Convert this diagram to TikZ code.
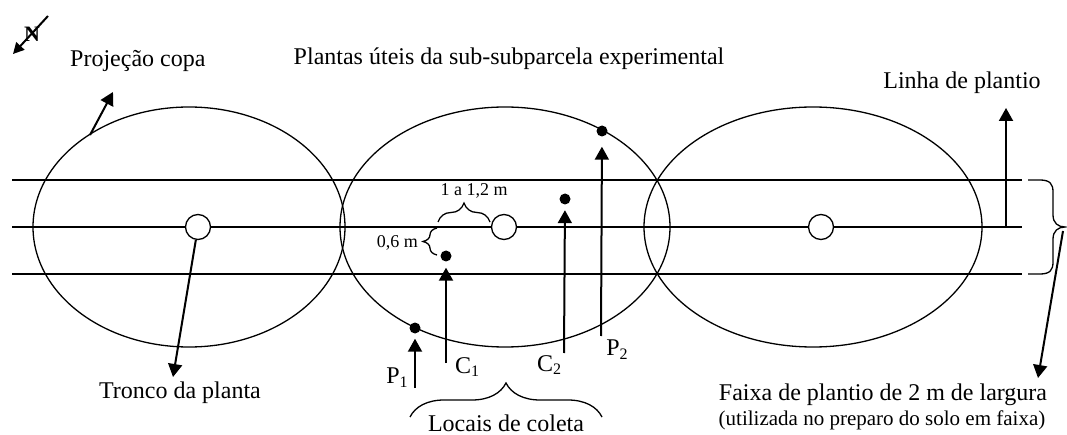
\documentclass[tikz,border=0pt]{standalone}
\usepackage{fontspec}
\setmainfont{Liberation Serif}
\usetikzlibrary{arrows.meta,decorations.pathreplacing}
\newcommand\lowsub[1]{\raisebox{-0.35ex}{\fontsize{16}{16}\selectfont #1}}
\tikzset{
  ln/.style={line width=1.3pt},
  arr/.style={line width=2pt, -{Triangle[length=13pt,width=14pt]}},
  dotn/.style={circle, fill=black, inner sep=0pt, minimum size=11pt},
  trunk/.style={circle, draw, fill=white, line width=1.3pt, inner sep=0pt, minimum size=25pt},
  lbl/.style={inner sep=0pt, font=\fontsize{24}{28}\selectfont},
  smalllbl/.style={inner sep=0pt, font=\fontsize{18}{20}\selectfont},
  brc/.style={line width=1.3pt, decorate, decoration={brace, amplitude=#1}},
}
\begin{document}
\begin{tikzpicture}[x=1pt,y=-1pt]
\useasboundingbox (0,0) rectangle (1067,435);
\fill[white] (0,0) rectangle (1067,435);

% canopy projections
\draw[ln] (189,227) ellipse [x radius=156pt, y radius=120pt];
\draw[ln] (505,227) ellipse [x radius=165pt, y radius=120pt];
\draw[ln] (813,227) ellipse [x radius=169pt, y radius=120pt];

% planting strip lines
\draw[ln] (12,180) -- (1022,180);
\draw[ln] (12,227) -- (1022,227);
\draw[ln] (12,274) -- (1022,274);

% trunks
\node[trunk] (t1) at (198,227) {};
\node[trunk] (t2) at (504,227) {};
\node[trunk] (t3) at (821,227) {};

% sampling points
\node[dotn] (p1) at (415,328) {};
\node[dotn] (c1) at (446,256) {};
\node[dotn] (c2) at (565,199) {};
\node[dotn] (p2) at (602,131) {};

\coordinate (p1b) at (415,388);
\coordinate (c1b) at (446,363);
\coordinate (c2b) at (564,353);
\coordinate (p2b) at (601,336);
\draw[arr, shorten >=5pt] (p1b) -- (p1);
\draw[arr, shorten >=6pt] (c1b) -- (c1);
\draw[arr, shorten >=5.5pt] (c2b) -- (c2);
\draw[arr, shorten >=10pt] (p2b) -- (p2);

\node[lbl] (lp1) at (397,378) {P\lowsub{1}};
\node[lbl] (lc1) at (467,367) {C\lowsub{1}};
\node[lbl] (lc2) at (549,365) {C\lowsub{2}};
\node[lbl] (lp2) at (617,350) {P\lowsub{2}};

% distance braces
\draw[brc=19] (438,222) -- (490,222);
\node[smalllbl] (d1) at (474,191) {1 a 1,2 m};
\draw[brc=14] (437,255) -- (437,228);
\node[smalllbl, anchor=east] (d2) at (418,243) {0,6 m};

% Locais de coleta
\draw[brc=34] (410,417) -- (602,417);
\node[lbl] (locais) at (506,423) {Locais de coleta};

% titles and labels
\node[lbl] (title) at (509,59) {Plantas úteis da sub-subparcela experimental};
\node[lbl, anchor=west] (proj) at (70,61) {Projeção copa};
\coordinate (projs) at (90,135);
\coordinate (projt) at (113,92);
\draw[arr] (projs) -- (projt);

\node[lbl] (tronco) at (180,393) {Tronco da planta};
\coordinate (trt) at (173,377);
\draw[arr] (t1) -- (trt);

\node[lbl] (linha) at (962,83) {Linha de plantio};
\coordinate (linb) at (1006,227);
\coordinate (lint) at (1006,108);
\draw[arr] (linb) -- (lint);

% strip brace
\coordinate (brtip) at (1065,227);
\draw[ln] (1028,180) -- (1040,180) .. controls (1050,180) and (1053,184) .. (1053,192)
  -- (1053,215) .. controls (1053,223) and (1058,227) .. (brtip)
  .. controls (1058,227) and (1053,231) .. (1053,239)
  -- (1053,262) .. controls (1053,270) and (1050,274) .. (1040,274) -- (1028,274);
\coordinate (fxs) at (1063,231);
\coordinate (fxt) at (1038,378);
\draw[arr] (fxs) -- (fxt);
\node[lbl] (faixa1) at (883,395) {Faixa de plantio de 2 m de largura};
\node[inner sep=0pt, font=\fontsize{21}{24}\selectfont] (faixa2) at (882,420) {(utilizada no preparo do solo em faixa)};

% north arrow
\node[inner sep=0pt, font=\fontsize{22}{24}\selectfont\bfseries] (north) at (32,34) {N};
\coordinate (ns) at (48,16);
\coordinate (nt) at (13,54);
\draw[line width=2pt, -{Triangle[length=11pt,width=11pt]}] (ns) -- (nt);
\end{tikzpicture}
\end{document}
